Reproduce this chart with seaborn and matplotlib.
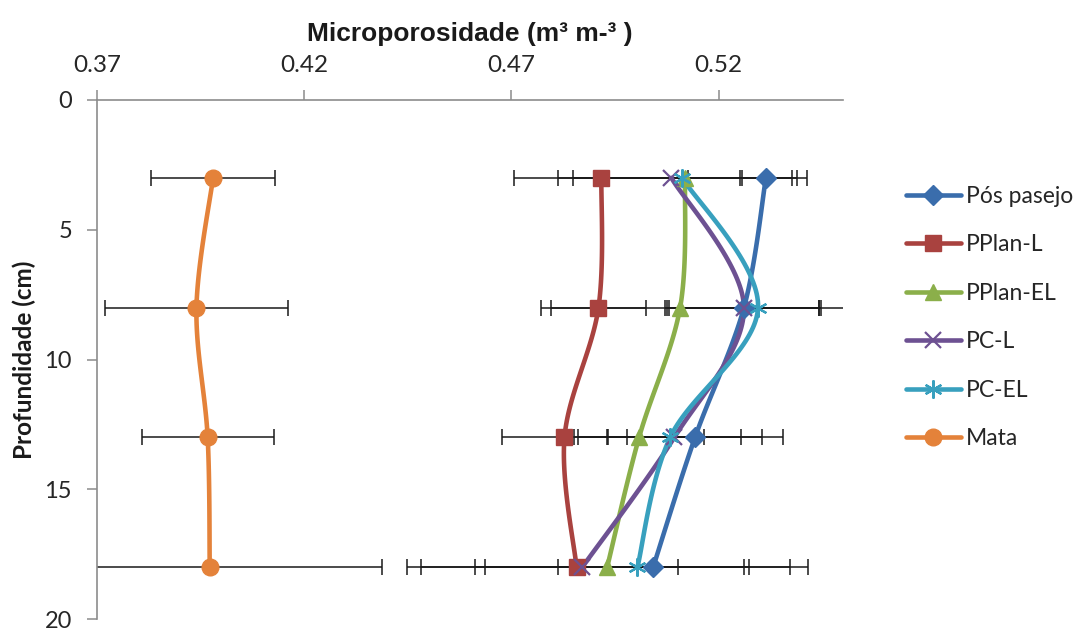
import numpy as np
import pandas as pd
import seaborn as sns
import matplotlib
matplotlib.use("Agg")
import matplotlib.pyplot as plt
from matplotlib.lines import Line2D

# ---------------- data ----------------
depths = [3, 8, 13, 18]
series_names = ["Pós pasejo", "PPlan-L", "PPlan-EL", "PC-L", "PC-EL", "Mata"]

pos_pasejo = [0.5314, 0.5261, 0.5143, 0.5042]
pplan_l = [0.4917, 0.4910, 0.4828, 0.4857]
pplan_el = [0.5119, 0.5107, 0.5008, 0.4931]
pc_l = [0.5086, 0.5261, 0.5093, 0.4871]
pc_el = [0.5112, 0.5295, 0.5083, 0.5004]
mata = [0.3980, 0.3940, 0.3967, 0.3972]

err_pos_pasejo = [0.0062, 0.0180, 0.0212, 0.0230]
err_pplan_l = [0.0210, 0.0115, 0.0150, 0.0246]
err_pplan_el = [0.0270, 0.0335, 0.0157, 0.0484]
err_pc_l = [0.0170, 0.0185, 0.0160, 0.0390]
err_pc_el = [0.0300, 0.0224, 0.0222, 0.0369]
err_mata = [0.0149, 0.0221, 0.0159, 0.0416]

x_ticks = [0.37, 0.42, 0.47, 0.52]
y_ticks = [0, 5, 10, 15, 20]

values = [pos_pasejo, pplan_l, pplan_el, pc_l, pc_el, mata]
errors = [err_pos_pasejo, err_pplan_l, err_pplan_el, err_pc_l, err_pc_el, err_mata]
colors = ["#3A6DAC", "#A9423F", "#8BAF4A", "#6D5192", "#38A0BE", "#E4823A"]
markers = ["D", "s", "^", "x", (6, 2, 0), "o"]
msizes = [10, 12, 11, 12, 13, 12]
mews = [1, 1, 1, 1.6, 1.6, 1]

# ---------------- style ----------------
sns.set_style("white")
plt.rcParams["font.family"] = ["Lato", "DejaVu Sans"]

fig = plt.figure(figsize=(10.82, 6.30), dpi=100)
ax = fig.add_axes([97 / 1082, 11 / 630, (843 - 97) / 1082, (619 - 100) / 630])


def smooth_path(xs, ys, sx=4150.0, sy=26.0, n=40):
    """Excel-like smoothed line (Catmull-Rom Bezier) in screen-scaled space."""
    P = np.column_stack([np.asarray(xs) * sx, np.asarray(ys) * sy])
    Pe = np.vstack([P[0], P, P[-1]])
    out = []
    for i in range(len(P) - 1):
        p0, p1, p2, p3 = Pe[i], Pe[i + 1], Pe[i + 2], Pe[i + 3]
        c1 = p1 + (p2 - p0) / 6.0
        c2 = p2 - (p3 - p1) / 6.0
        t = np.linspace(0, 1, n)[:, None]
        seg = ((1 - t) ** 3) * p1 + 3 * ((1 - t) ** 2) * t * c1 + 3 * (1 - t) * t ** 2 * c2 + t ** 3 * p2
        out.append(seg if i == 0 else seg[1:])
    out = np.vstack(out)
    return out[:, 0] / sx, out[:, 1] / sy


# error bars first (behind)
for vals, errs in zip(values, errors):
    ax.errorbar(vals, depths, xerr=errs, fmt="none", ecolor="#1a1a1a",
                elinewidth=1.1, capsize=6, capthick=1.1, zorder=2)

# smooth curves via seaborn
for name, vals, col in zip(series_names, values, colors):
    sx_, sy_ = smooth_path(vals, depths)
    df = pd.DataFrame({"x": sx_, "y": sy_})
    sns.lineplot(data=df, x="x", y="y", sort=False, estimator=None, ax=ax,
                 color=col, linewidth=3.3, zorder=3, legend=False)

# markers
for name, vals, col, mk, ms, mw in zip(series_names, values, colors, markers, msizes, mews):
    ax.plot(vals, depths, linestyle="none", marker=mk, markersize=ms, color=col,
            markeredgecolor=col, markeredgewidth=mw, zorder=4)

ax.set_xlim(0.37, 0.55)
ax.set_ylim(20, 0)
ax.set_xticks(x_ticks)
ax.set_xticklabels([f"{v:.2f}" for v in x_ticks])
ax.set_yticks(y_ticks)
ax.set_yticklabels([str(v) for v in y_ticks])
ax.xaxis.tick_top()
ax.xaxis.set_label_position("top")

for s in ["right", "bottom"]:
    ax.spines[s].set_visible(False)
for s in ["top", "left"]:
    ax.spines[s].set_visible(True)
    ax.spines[s].set_color("#8c8c8c")
    ax.spines[s].set_linewidth(1.2)

ax.tick_params(axis="x", which="both", top=True, bottom=False, direction="out",
               length=7, width=1.1, color="#8c8c8c", labelsize=17.5, pad=10, labelcolor="#262626")
ax.tick_params(axis="y", which="both", left=True, direction="out",
               length=7, width=1.1, color="#8c8c8c", labelsize=17, pad=11, labelcolor="#262626")

ax.set_xlabel("Microporosidade (m³ m-³ )", fontsize=19, fontweight="bold", labelpad=10,
              family=["Liberation Sans", "DejaVu Sans"], color="#1a1a1a")
ax.set_ylabel("Profundidade (cm)", fontsize=17.5, fontweight="bold", labelpad=6, color="#1a1a1a")

handles = [Line2D([0], [0], color=c, linewidth=3.3, marker=m, markersize=ms,
                  markeredgecolor=c, markeredgewidth=mw)
           for c, m, ms, mw in zip(colors, markers, msizes, mews)]
leg = fig.legend(handles, series_names, loc="upper left", bbox_to_anchor=(885 / 1082, 1 - 165 / 630),
                 frameon=False, handlelength=2.4, handletextpad=0.25, labelspacing=1.2,
                 prop={"family": ["Lato", "DejaVu Sans"], "size": 16.5})
for t in leg.get_texts():
    t.set_color("#262626")

fig.savefig("out.png", dpi=100)
